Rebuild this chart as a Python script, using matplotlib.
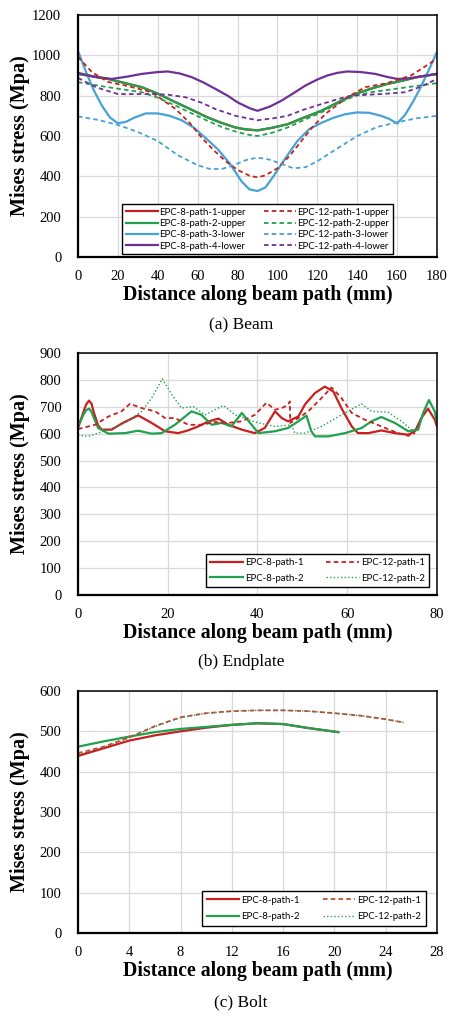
import matplotlib
matplotlib.use("Agg")
import matplotlib.pyplot as plt

# ---------------- (a) Beam ----------------
beam_8_1_x = [0, 15, 32, 40, 49, 57, 65, 72, 79, 84, 90, 97, 105, 113, 122, 130, 139, 147, 155, 163, 170, 180]
beam_8_1_y = [908, 883, 842, 810, 767, 730, 692, 665, 642, 633, 628, 640, 658, 690, 725, 765, 808, 835, 858, 875, 892, 908]

beam_8_2_x = [0, 15, 32, 40, 49, 57, 65, 72, 79, 84, 90, 97, 105, 113, 122, 130, 139, 147, 155, 163, 170, 180]
beam_8_2_y = [908, 883, 842, 810, 767, 730, 692, 665, 642, 633, 628, 640, 658, 690, 725, 765, 808, 835, 858, 875, 892, 908]

beam_8_3_x = [0, 4, 8, 12, 16, 20, 24, 28, 34, 40, 46, 52, 58, 64, 70, 76, 82, 86, 90, 94, 98,
              104, 110, 116, 122, 128, 134, 140, 146, 152, 156, 160, 164, 168, 172, 176, 180]
beam_8_3_y = [1022, 918, 825, 750, 692, 663, 670, 690, 712, 712, 700, 678, 642, 590, 535, 465, 375, 335, 327, 345, 400,
              490, 575, 635, 665, 690, 708, 717, 715, 700, 685, 662, 705, 770, 845, 930, 1017]

beam_8_4_x = [0, 9, 17, 25, 32, 40, 45, 51, 57, 63, 69, 75, 80, 86, 90, 96, 102, 108, 114, 120,
              125, 130, 135, 142, 149, 155, 160, 165, 170, 175, 180]
beam_8_4_y = [913, 892, 883, 895, 908, 917, 920, 910, 892, 865, 833, 800, 767, 738, 725, 745, 775, 812, 850, 880,
              900, 913, 920, 917, 908, 893, 883, 885, 892, 900, 908]

beam_12_1_x = [0, 7, 15, 24, 37, 49, 56, 62, 68, 74, 80, 86, 90, 94, 100, 106, 112, 118, 125, 135, 144, 155, 167, 180]
beam_12_1_y = [992, 917, 868, 850, 817, 733, 665, 592, 530, 475, 432, 403, 395, 405, 440, 500, 575, 650, 717, 792, 842, 862, 900, 983]

beam_12_2_x = [0, 15, 32, 40, 49, 57, 65, 72, 79, 85, 90, 97, 105, 113, 122, 130, 139, 147, 155, 165, 180]
beam_12_2_y = [867, 842, 817, 790, 750, 712, 675, 645, 622, 607, 600, 615, 642, 678, 717, 760, 800, 817, 828, 842, 862]

beam_12_3_x = [0, 10, 20, 30, 40, 50, 60, 66, 72, 78, 84, 90, 96, 102, 108, 114, 120, 130, 140, 150, 160, 170, 180]
beam_12_3_y = [697, 680, 655, 620, 575, 505, 455, 437, 436, 455, 480, 493, 483, 462, 440, 445, 475, 538, 600, 645, 668, 688, 700]

beam_12_4_x = [0, 9, 20, 37, 45, 54, 62, 69, 79, 90, 98, 105, 113, 122, 130, 137, 152, 164, 172, 180]
beam_12_4_y = [888, 842, 808, 808, 805, 792, 765, 733, 700, 678, 688, 700, 730, 758, 782, 800, 808, 817, 845, 883]

# ---------------- (b) Endplate ----------------
end_8_1_x = [0, 1.2, 1.8, 2.45, 3.0, 3.5, 4.5, 5.3, 7.5, 10, 13.4, 16.4, 19.4, 22.3, 24.5, 26.8, 29, 31.3,
             33.5, 36.5, 39.4, 41.6, 43.9, 45.4, 46.8, 49.1, 50.6, 52.8, 55, 56.9, 58.7, 61, 62.4, 64.7,
             67.6, 70.6, 73.6, 75.1, 76.5, 78, 79.5, 80]
end_8_1_y = [621, 680, 708, 723, 712, 680, 630, 615, 615, 640, 668, 640, 609, 602, 612, 627, 645, 656,
             633, 615, 602, 621, 683, 658, 646, 664, 709, 751, 775, 757, 695, 627, 602, 602,
             612, 602, 596, 609, 658, 693, 652, 627]

end_8_2_x = [0, 1.2, 1.8, 2.45, 3.0, 3.5, 4.5, 6.8, 10.5, 13.4, 16.4, 18.6, 21.6, 25.3, 27.5, 29.8, 32,
             34.2, 36.5, 38.7, 40.2, 43.9, 46.8, 49.1, 50.9, 52, 52.8, 55.8, 59.5, 63.2, 65.4, 67.6,
             70.6, 73.6, 75.8, 76.9, 78.2, 79.5, 80]
end_8_2_y = [627, 670, 687, 693, 682, 660, 621, 600, 602, 611, 600, 602, 633, 683, 670, 633, 640,
             627, 677, 633, 602, 609, 621, 646, 667, 609, 590, 590, 602, 621, 646, 662,
             640, 609, 615, 677, 725, 683, 640]

end_12_1_x = [0, 3.8, 6.8, 9.7, 11.6, 14.2, 17.2, 19.4, 21.6, 24.6, 27.5, 30.5, 33.5, 36.5, 39.4, 42,
              43.9, 45.4, 46.8, 47.2, 47.3, 49.1, 51.3, 54.3, 56.5, 58.7, 61, 63.9, 67.6, 71.3, 73.6, 75.1]
end_12_1_y = [617, 633, 664, 683, 711, 695, 683, 658, 658, 633, 633, 643, 640, 646, 670, 715,
              689, 695, 707, 720, 640, 658, 683, 733, 772, 733, 677, 652, 627, 602, 592, 602]

end_12_2_x = [0, 2.3, 6.8, 10.5, 14.2, 16.4, 18.8, 20.9, 23.1, 25.7, 28.3, 32.4, 35, 38, 40.2, 43.9,
              47.6, 48.3, 50.6, 54.3, 58.7, 63.2, 65.4, 69.1, 72.1, 74.3, 75.8]
end_12_2_y = [594, 590, 615, 640, 683, 732, 804, 745, 695, 701, 670, 705, 670, 652, 640, 627,
              633, 602, 602, 627, 670, 711, 683, 680, 646, 615, 609]

# ---------------- (c) Bolt ----------------
bolt_8_x = [0, 2, 4, 6, 8, 10, 12, 14, 16, 18, 20.3]
bolt_8_1_y = [439, 458, 477, 490, 500, 509, 516, 520, 518, 508, 498]
bolt_8_2_y = [462, 475, 487, 498, 506, 511, 516, 520, 518, 508, 498]

bolt_12_x = [0, 2, 4, 6, 8, 10, 12, 14, 16, 18, 20, 22, 24, 25.4]
bolt_12_1_y = [446, 462, 485, 513, 535, 545, 550, 552, 552, 550, 545, 539, 530, 522]
bolt_12_2_y = [442, 460, 484, 512, 534, 545, 550, 552, 552, 550, 545, 539, 530, 522]

RED = "#C8201E"
GREEN = "#21A04E"
BLUE = "#46A3D3"
PURPLE = "#6F3096"

serif = "Liberation Serif"
legend_font = {"family": "Lato", "size": 6.9}

fig = plt.figure(figsize=(4.56, 10.16), dpi=100)


def style_axes(ax, xmax, xstep, ymax, ystep):
    ax.set_xlim(0, xmax)
    ax.set_ylim(0, ymax)
    ax.set_xticks(range(0, xmax + 1, xstep))
    ax.set_yticks(range(0, ymax + 1, ystep))
    ax.grid(True, color="#d9d9d9", linewidth=0.9)
    ax.set_axisbelow(True)
    ax.tick_params(axis="x", length=0, labelsize=10.5, pad=9)
    ax.tick_params(axis="y", length=0, labelsize=10.5, pad=12)
    for lab in ax.get_xticklabels() + ax.get_yticklabels():
        lab.set_fontfamily(serif)
    for s in ax.spines.values():
        s.set_color("black")
        s.set_linewidth(1.1)
    ax.spines["bottom"].set_linewidth(1.6)
    ax.spines["left"].set_linewidth(1.6)
    ax.set_ylabel("Mises stress (Mpa)", fontsize=14.5, fontweight="bold", family=serif)
    ax.yaxis.set_label_coords(-0.135, 0.5)
    ax.set_xlabel("Distance along beam path (mm)", fontsize=14.2, fontweight="bold", family=serif,
                  labelpad=2)


W = 359 / 456
L = 78 / 456
H = 242 / 1016

# (a)
ax1 = fig.add_axes([L, 1 - 257 / 1016, W, H])
lw = 1.6
ax1.plot(beam_8_1_x, beam_8_1_y, color=RED, lw=lw, label="EPC-8-path-1-upper")
ax1.plot(beam_8_2_x, beam_8_2_y, color=GREEN, lw=lw, label="EPC-8-path-2-upper")
ax1.plot(beam_8_3_x, beam_8_3_y, color=BLUE, lw=lw, label="EPC-8-path-3-lower")
ax1.plot(beam_8_4_x, beam_8_4_y, color=PURPLE, lw=lw, label="EPC-8-path-4-lower")
ax1.plot(beam_12_1_x, beam_12_1_y, color=RED, lw=1.3, ls=(0, (2.5, 1.8)), label="EPC-12-path-1-upper")
ax1.plot(beam_12_2_x, beam_12_2_y, color=GREEN, lw=1.3, ls=(0, (2.5, 1.8)), label="EPC-12-path-2-upper")
ax1.plot(beam_12_3_x, beam_12_3_y, color=BLUE, lw=1.3, ls=(0, (2.5, 1.8)), label="EPC-12-path-3-lower")
ax1.plot(beam_12_4_x, beam_12_4_y, color=PURPLE, lw=1.3, ls=(0, (2.5, 1.8)), label="EPC-12-path-4-lower")
style_axes(ax1, 180, 20, 1200, 200)
leg = ax1.legend(ncol=2, loc="lower center", bbox_to_anchor=(0.5, 0.012), prop=legend_font,
                 fancybox=False, edgecolor="black", framealpha=1, handlelength=3.4,
                 columnspacing=1.9, labelspacing=0.25, borderpad=0.35, handletextpad=0.1,
                 borderaxespad=0)
leg.get_frame().set_linewidth(1.0)

# (b)
ax2 = fig.add_axes([L, 1 - 595 / 1016, W, H])
ax2.plot(end_8_1_x, end_8_1_y, color=RED, lw=lw, label="EPC-8-path-1")
ax2.plot(end_8_2_x, end_8_2_y, color=GREEN, lw=lw, label="EPC-8-path-2")
ax2.plot(end_12_1_x, end_12_1_y, color=RED, lw=1.3, ls=(0, (2.5, 1.8)), label="EPC-12-path-1")
ax2.plot(end_12_2_x, end_12_2_y, color=GREEN, lw=1.0, ls=(0, (1, 1.6)), label="EPC-12-path-2")
style_axes(ax2, 80, 20, 900, 100)
leg = ax2.legend(ncol=2, loc="lower right", bbox_to_anchor=(0.978, 0.033), prop=legend_font,
                 fancybox=False, edgecolor="black", framealpha=1, handlelength=3.4,
                 columnspacing=2.4, labelspacing=0.7, borderpad=0.45, handletextpad=0.2,
                 borderaxespad=0)
leg.get_frame().set_linewidth(1.0)

# (c)
ax3 = fig.add_axes([L, 1 - 933 / 1016, W, H])
ax3.plot(bolt_12_x, bolt_12_2_y, color=GREEN, lw=1.0, ls=(0, (1, 1.6)), label="EPC-12-path-2")
ax3.plot(bolt_8_x, bolt_8_1_y, color=RED, lw=lw, label="EPC-8-path-1")
ax3.plot(bolt_8_x, bolt_8_2_y, color=GREEN, lw=lw, label="EPC-8-path-2")
ax3.plot(bolt_12_x, bolt_12_1_y, color="#B5503A", lw=1.3, ls=(0, (2.5, 1.8)), label="EPC-12-path-1")
style_axes(ax3, 28, 4, 600, 100)
h, l = ax3.get_legend_handles_labels()
order = [1, 2, 3, 0]
leg = ax3.legend([h[i] for i in order], [l[i] for i in order], ncol=2, loc="lower right",
                 bbox_to_anchor=(0.969, 0.029), prop=legend_font,
                 fancybox=False, edgecolor="black", framealpha=1, handlelength=3.4,
                 columnspacing=2.4, labelspacing=0.8, borderpad=0.5, handletextpad=0.2,
                 borderaxespad=0)
leg.get_frame().set_linewidth(1.0)

# captions
fig.text(241 / 456, 1 - 325 / 1016, "(a) Beam", ha="center", va="center", family=serif, fontsize=12.5)
fig.text(241 / 456, 1 - 662 / 1016, "(b) Endplate", ha="center", va="center", family=serif, fontsize=12.5)
fig.text(241 / 456, 1 - 1002 / 1016, "(c) Bolt", ha="center", va="center", family=serif, fontsize=12.5)

fig.savefig("out.png", dpi=100, facecolor="white")
